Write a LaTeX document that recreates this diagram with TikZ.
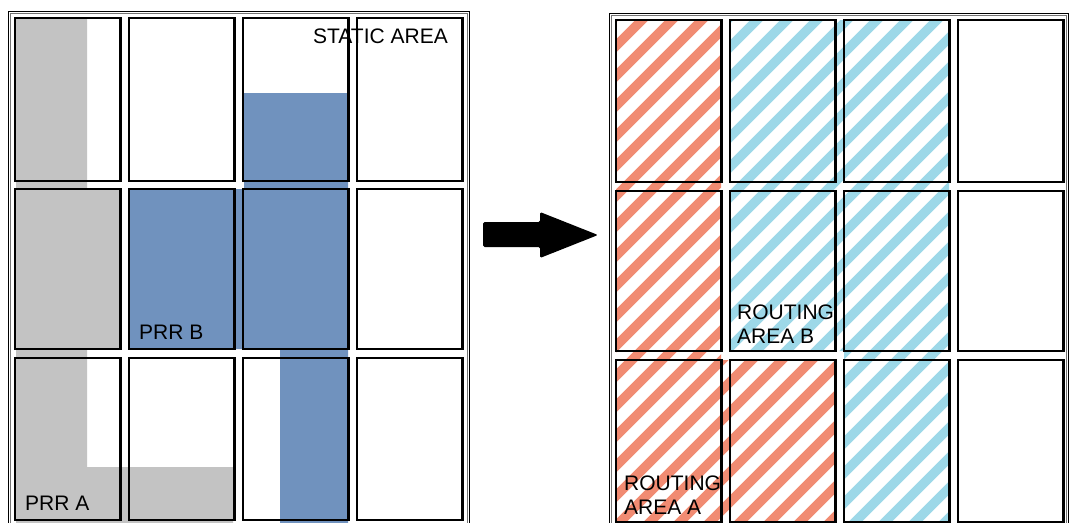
\documentclass[tikz,border=0pt]{standalone}
\usepackage{fontspec}
\setmainfont{Liberation Sans}
\usetikzlibrary{positioning}
\definecolor{prrgray}{RGB}{195,195,195}
\definecolor{prrblue}{RGB}{112,146,190}
\definecolor{hatchred}{RGB}{241,139,114}
\definecolor{hatchblue}{RGB}{157,216,232}

\begin{document}
\begin{tikzpicture}[x=1pt,y=-1pt,
    cell/.style={draw=black,line width=2.1pt},
    frame/.style={draw=black,line width=1pt},
    frameinner/.style={draw=black!55,line width=0.8pt},
    hatcha/.style={draw=hatchred,line width=9.5pt},
    hatchb/.style={draw=hatchblue,line width=9.5pt},
    lbl/.style={inner sep=0pt,anchor=base west,font=\fontsize{21}{24}\selectfont},
    lbltwo/.style={inner sep=0pt,anchor=north west,align=left,font=\fontsize{21}{24}\selectfont}]
  \useasboundingbox (0,0) rectangle (1070,522);
  \clip (0,0) rectangle (1070,522);

  % before: the two PRRs
  \fill[prrgray] (16,19) -- (87,19) -- (87,189) -- (120,189) -- (120,349) -- (87,349)
    -- (87,467) -- (233,467) -- (233,530) -- (16,530) -- cycle;
  \fill[prrblue] (244,93) -- (348,93) -- (348,530) -- (280,530) -- (280,349)
    -- (129,349) -- (129,189) -- (244,189) -- cycle;

  % after: routing areas
  \begin{scope}
    \clip (616,20) -- (721,20) -- (721,360) -- (836,360) -- (836,530) -- (616,530) -- cycle;
    \foreach \c in {632,662,...,1382}
      \draw[hatcha] (\c,0) -- ++(-600,600);
  \end{scope}
  \begin{scope}
    \clip (730,20) -- (949,20) -- (949,530) -- (844,530) -- (844,351) -- (730,351) -- cycle;
    \foreach \c in {747,777,...,1497}
      \draw[hatchb] (\c,0) -- ++(-600,600);
  \end{scope}

  % frames and cells
  \draw[frame] (8,11) rectangle (469,540);
  \draw[frameinner] (10,13) rectangle (467,540);
  \draw[frame] (609,13) rectangle (1068,540);
  \draw[frameinner] (611,15) rectangle (1066,540);
  \foreach \y/\yy in {18/181,189/349,358/520}
    \foreach \x in {15,129,243,357}
      \draw[cell] (\x,\y) rectangle (\x+105.5,\yy);
  \foreach \y/\yy in {20/182,191/351,360/522}
    \foreach \x in {616,730,844,958}
      \draw[cell] (\x,\y) rectangle (\x+105.5,\yy);

  \fill[rounded corners=1.5pt] (483,222) -- (540,222) -- (540,212) -- (598,235)
    -- (540,258) -- (540,247) -- (483,247) -- cycle;

  \node[lbl] (static) at (313,43) {STATIC AREA};
  \node[lbl] (prrb) at (139,339) {PRR B};
  \node[lbl] (prra) at (25,510) {PRR A};
  \node[lbltwo] (routb) at (737,305) {ROUTING\\AREA B};
  \node[lbltwo] (routa) at (624,476) {ROUTING\\AREA A};
\end{tikzpicture}
\end{document}
